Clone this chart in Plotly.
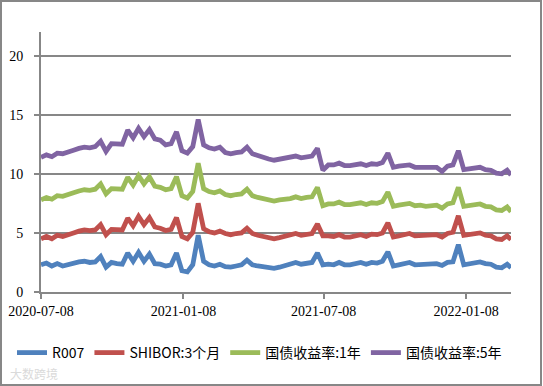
import pandas as pd
import plotly.graph_objects as go

# weekly observation dates (2020-07-08 .. 2022-03-02) plus last observation
dates = list(pd.date_range("2020-07-08", periods=87, freq="7D").strftime("%Y-%m-%d")) + ["2022-03-07"]

r007 = [2.30, 2.45, 2.20, 2.40, 2.20, 2.35, 2.40, 2.55, 2.60, 2.50, 2.55, 3.00, 2.10,
        2.50, 2.40, 2.35, 3.30, 2.60, 3.35, 2.60, 3.20, 2.40, 2.35, 2.20, 2.30, 3.30,
        1.80, 1.70, 2.30, 4.80, 2.60, 2.30, 2.20, 2.35, 2.15, 2.10, 2.20, 2.30, 2.70,
        2.30, 2.20, 2.10, 2.05, 2.00, 2.10, 2.20, 2.35, 2.50, 2.35, 2.45, 2.50, 3.30,
        2.30, 2.35, 2.30, 2.50, 2.30, 2.30, 2.40, 2.50, 2.35, 2.50, 2.45, 2.60, 3.40,
        2.20, 2.30, 2.35, 2.50, 2.30, 2.35, 2.30, 2.35, 2.40, 2.25, 2.50, 2.55, 4.00,
        2.30, 2.35, 2.40, 2.55, 2.40, 2.35, 2.10, 2.05, 2.35, 2.05]

shibor_3m = [2.20, 2.25, 2.30, 2.40, 2.50, 2.55, 2.60, 2.60, 2.65, 2.70, 2.70, 2.70, 2.75,
             2.80, 2.85, 2.90, 2.95, 3.00, 3.05, 3.10, 3.10, 3.10, 3.05, 3.00, 3.00, 3.00,
             2.90, 2.80, 2.75, 2.70, 2.75, 2.80, 2.80, 2.80, 2.80, 2.75, 2.75, 2.70, 2.70,
             2.65, 2.60, 2.60, 2.55, 2.50, 2.50, 2.50, 2.45, 2.45, 2.45, 2.45, 2.45, 2.45,
             2.45, 2.40, 2.40, 2.35, 2.35, 2.35, 2.35, 2.35, 2.35, 2.40, 2.40, 2.40, 2.45,
             2.45, 2.45, 2.45, 2.45, 2.45, 2.45, 2.45, 2.45, 2.45, 2.40, 2.45, 2.50, 2.45,
             2.50, 2.50, 2.45, 2.45, 2.40, 2.40, 2.40, 2.40, 2.40, 2.40]

cgb_1y = [3.30, 3.30, 3.35, 3.35, 3.40, 3.40, 3.40, 3.40, 3.40, 3.40, 3.45, 3.45, 3.45,
          3.45, 3.45, 3.45, 3.45, 3.45, 3.45, 3.45, 3.45, 3.45, 3.45, 3.45, 3.45, 3.45,
          3.45, 3.45, 3.45, 3.40, 3.40, 3.40, 3.40, 3.40, 3.30, 3.30, 3.30, 3.30, 3.30,
          3.20, 3.20, 3.20, 3.20, 3.20, 3.20, 3.10, 3.10, 3.10, 3.10, 3.10, 3.10, 3.10,
          2.55, 2.70, 2.75, 2.75, 2.75, 2.75, 2.70, 2.70, 2.70, 2.65, 2.65, 2.65, 2.60,
          2.60, 2.60, 2.60, 2.55, 2.55, 2.55, 2.50, 2.50, 2.50, 2.45, 2.50, 2.50, 2.40,
          2.45, 2.45, 2.45, 2.45, 2.45, 2.45, 2.45, 2.45, 2.45, 2.35]

cgb_5y = [3.60, 3.60, 3.60, 3.60, 3.60, 3.60, 3.60, 3.60, 3.60, 3.60, 3.60, 3.60, 3.60,
          3.80, 3.80, 3.80, 4.00, 4.00, 4.00, 4.00, 4.00, 4.00, 4.00, 3.80, 3.80, 3.80,
          3.80, 3.80, 3.80, 3.70, 3.70, 3.70, 3.70, 3.70, 3.55, 3.55, 3.55, 3.55, 3.55,
          3.55, 3.55, 3.45, 3.45, 3.45, 3.45, 3.45, 3.45, 3.45, 3.45, 3.45, 3.45, 3.30,
          3.00, 3.30, 3.30, 3.30, 3.30, 3.30, 3.30, 3.30, 3.30, 3.30, 3.30, 3.30, 3.30,
          3.30, 3.30, 3.25, 3.25, 3.25, 3.20, 3.20, 3.20, 3.20, 3.10, 3.20, 3.20, 3.10,
          3.10, 3.10, 3.10, 3.10, 3.10, 3.10, 3.10, 3.10, 3.10, 3.10]

series_names = ["R007", "SHIBOR:3个月", "国债收益率:1年", "国债收益率:5年"]
series_values = [r007, shibor_3m, cgb_1y, cgb_5y]
colors = ["#4F81BD", "#C0504D", "#9BBB59", "#8064A2"]

tick_dates = ["2020-07-08", "2021-01-08", "2021-07-08", "2022-01-08"]
y_ticks = [0, 5, 10, 15, 20]

W, H = 543, 386
ML, MR, MT, MB = 41, 32, 32, 94
PW, PH = W - ML - MR, H - MT - MB

def px(x):
    return (x - ML) / PW

def py(y):
    return (H - MB - y) / PH

fig = go.Figure()
for name, vals, col in zip(series_names, series_values, colors):
    fig.add_trace(go.Scatter(
        x=dates, y=vals, name=name, mode="lines", stackgroup="one", fill="none",
        line=dict(color=col, width=4.8),
    ))

grey = "#878787"
serif = "Liberation Serif"
fig.update_layout(
    width=W, height=H,
    margin=dict(l=ML, r=MR, t=MT, b=MB, pad=0, autoexpand=False),
    paper_bgcolor="white", plot_bgcolor="white",
    showlegend=True,
    legend=dict(
        orientation="h", x=px(12), xanchor="left", y=py(353), yanchor="middle",
        font=dict(family="Noto Sans CJK SC", size=14, color="#000000"),
        itemwidth=30, tracegroupgap=0, bgcolor="rgba(0,0,0,0)",
    ),
    xaxis=dict(
        type="date", range=["2020-07-08", "2022-03-07"],
        tickvals=tick_dates, ticktext=tick_dates,
        showgrid=False, zeroline=False,
        showline=True, linecolor=grey, linewidth=2,
        ticks="outside", ticklen=5, tickwidth=2, tickcolor=grey,
        tickfont=dict(family=serif, size=14, color="#000000"),
        fixedrange=True,
    ),
    yaxis=dict(
        range=[0, 22], tickvals=y_ticks,
        showgrid=True, gridcolor=grey, gridwidth=2, zeroline=False,
        showline=True, linecolor=grey, linewidth=2,
        ticks="outside", ticklen=5, tickwidth=2, tickcolor=grey,
        ticklabelstandoff=8,
        tickfont=dict(family=serif, size=14, color="#000000"),
        fixedrange=True,
    ),
    shapes=[dict(type="rect", xref="paper", yref="paper",
                 x0=px(1), x1=px(541), y0=py(385), y1=py(1),
                 line=dict(color=grey, width=2), fillcolor="rgba(0,0,0,0)", layer="below")],
    annotations=[dict(text="大数跨境", xref="paper", yref="paper", x=px(8), y=py(373),
                      xanchor="left", yanchor="middle", showarrow=False,
                      font=dict(family="Noto Sans CJK SC", size=12, color="#DADADA"))],
)

fig.write_html("out.html", config={"displayModeBar": False},
               post_script="document.body.style.margin='0px';document.body.style.overflow='hidden';")
